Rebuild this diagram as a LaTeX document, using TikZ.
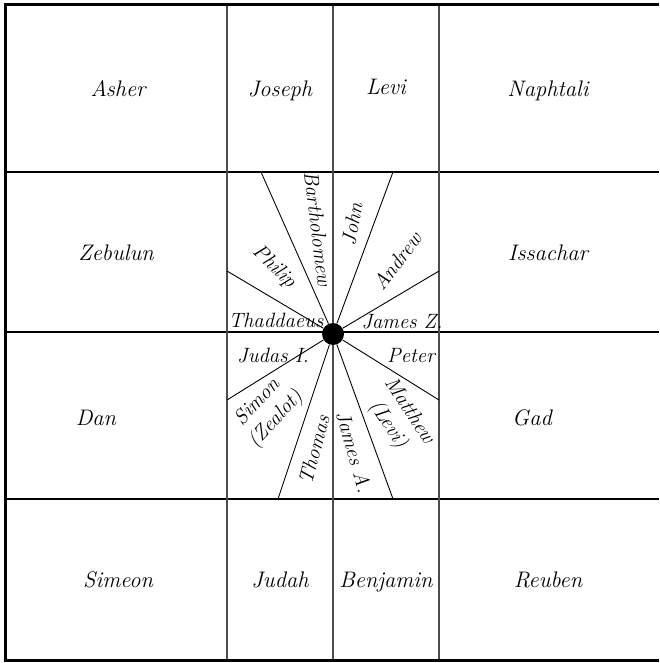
\documentclass[tikz,border=0pt]{standalone}
\usepackage{fontspec}
\usepackage{tikz}

\begin{document}
\begin{tikzpicture}[x=1pt,y=-1pt,
frame/.style={draw=black,line width=3pt},
gridv/.style={draw=black!70,line width=1.4pt},
gridh/.style={draw=black,line width=1.2pt},
ray/.style={draw=black,line width=0.9pt},
hubdot/.style={circle,fill=black,minimum size=22pt,inner sep=0pt},
tribe/.style={anchor=base,font=\fontsize{22.5}{26}\selectfont\itshape},
apostle/.style={font=\fontsize{20.7}{25}\selectfont\itshape,align=center,inner sep=0pt}
]
\useasboundingbox (0,0) rectangle (659,663);
\fill[white] (0,0) rectangle (659,663);

\draw[gridh] (5,172) -- (659,172);
\draw[gridh] (5,332) -- (659,332);
\draw[gridh] (5,499) -- (659,499);
\draw[gridv] (227,5) -- (227,660);
\draw[gridv] (333,5) -- (333,660);
\draw[gridv] (439,5) -- (439,660);
\draw[frame] (659,5) -- (5,5) -- (5,660) -- (659,660);

\node[hubdot] (hub) at (333,334) {};
\draw[ray] (hub) -- (261,172);
\draw[ray] (hub) -- (393,172);
\draw[ray] (hub) -- (227,271);
\draw[ray] (hub) -- (439,271);
\draw[ray] (hub) -- (227,400);
\draw[ray] (hub) -- (439,400);
\draw[ray] (hub) -- (278,499);
\draw[ray] (hub) -- (393,499);

\node[tribe] (asher) at (118,97) {Asher};
\node[tribe] (joseph) at (280,97) {Joseph};
\node[tribe] (levi) at (386,95) {Levi};
\node[tribe] (naphtali) at (548,97) {Naphtali};
\node[tribe] (zebulun) at (116,260) {Zebulun};
\node[tribe] (issachar) at (548,260) {Issachar};
\node[tribe] (dan) at (96,425) {Dan};
\node[tribe] (gad) at (532,425) {Gad};
\node[tribe] (simeon) at (118,587) {Simeon};
\node[tribe] (judah) at (280,587) {Judah};
\node[tribe] (benjamin) at (386,587) {Benjamin};
\node[tribe] (reuben) at (548,587) {Reuben};

\node[apostle,rotate=-83] (bartholomew) at (318,229) {Bartholomew};
\node[apostle,rotate=80] (john) at (352,224) {John};
\node[apostle,rotate=53] (andrew) at (397,261) {Andrew};
\node[apostle,rotate=-44] (philip) at (274,267) {Philip};
\node[apostle,anchor=base] (thaddaeus) at (276,327) {Thaddaeus};
\node[apostle,anchor=base] (jamesz) at (402,328) {James Z.};
\node[apostle,anchor=base] (peter) at (411,362) {Peter};
\node[apostle,anchor=base] (judas) at (273,362) {Judas I.};
\node[apostle,rotate=47] (simon) at (267,411) {Simon\\(Zealot)};
\node[apostle,rotate=75] (thomas) at (314,450) {Thomas};
\node[apostle,rotate=-74] (jamesa) at (354,452) {James A.};
\node[apostle,rotate=-57] (matthew) at (398,418) {Matthew\\(Levi)};
\end{tikzpicture}
\end{document}
